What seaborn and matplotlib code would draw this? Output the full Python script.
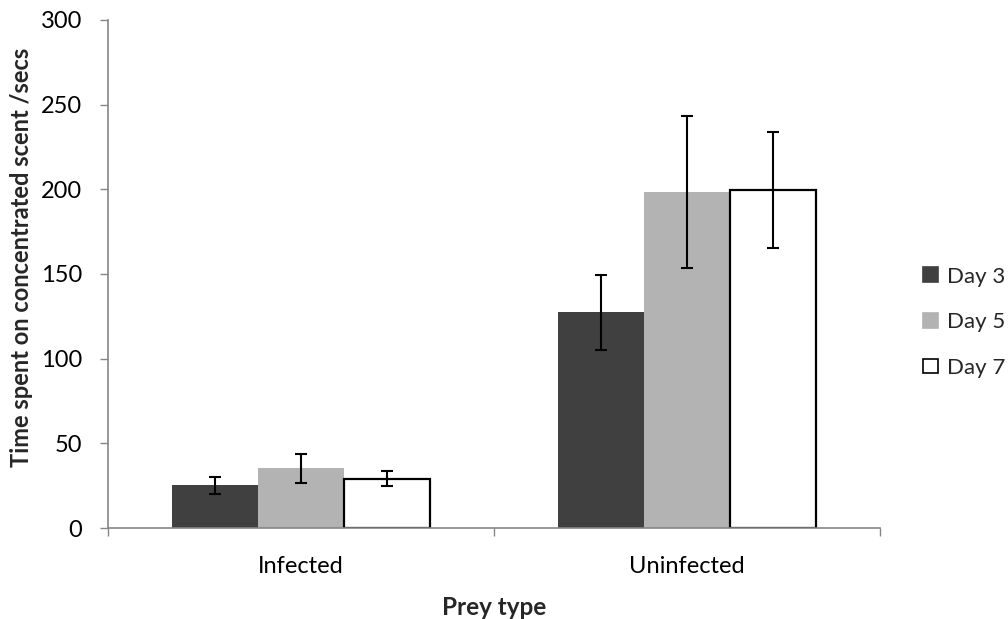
import numpy as np
import pandas as pd
import matplotlib
matplotlib.use('Agg')
import matplotlib.pyplot as plt
import seaborn as sns

# values
prey_types = ['Infected', 'Uninfected']
days = ['Day 3', 'Day 5', 'Day 7']
day3_means = [25.2, 127.3]
day5_means = [35.2, 198.3]
day7_means = [29.1, 199.5]
day3_err = [5.1, 22.0]
day5_err = [8.5, 45.0]
day7_err = [4.4, 34.0]

colors = ['#404040', '#b3b3b3', '#ffffff']

data = pd.DataFrame({
    'Prey type': prey_types * 3,
    'Day': [d for d in days for _ in prey_types],
    'Time': day3_means + day5_means + day7_means,
})
errors = [day3_err, day5_err, day7_err]

sns.set_style('white')
plt.rcParams['font.family'] = ['Lato', 'DejaVu Sans']

fig = plt.figure(figsize=(10.08, 6.19), dpi=100)
ax = fig.add_axes([0.107, 0.147, 0.766, 0.821])

sns.barplot(data=data, x='Prey type', y='Time', hue='Day', order=prey_types,
            hue_order=days, palette=colors, width=0.67, errorbar=None,
            saturation=1, ax=ax, legend=False)

# style bars and add error bars at bar centres
for cont, err, col in zip(ax.containers, errors, colors):
    for bar in cont:
        if col == '#ffffff':
            bar.set_edgecolor('black')
            bar.set_linewidth(1.6)
        else:
            bar.set_edgecolor(col)
            bar.set_linewidth(0)
    xs = [b.get_x() + b.get_width() / 2 for b in cont]
    ys = [b.get_height() for b in cont]
    ax.errorbar(xs, ys, yerr=err, fmt='none', ecolor='black', elinewidth=1.5,
                capsize=4.3, capthick=1.5, zorder=5)

ax.set_xlim(-0.5, 1.5)
ax.set_ylim(0, 300)
ax.set_yticks(np.arange(0, 301, 50))
ax.set_xticks([-0.5, 0.5, 1.5], minor=True)
ax.tick_params(axis='x', which='major', length=0, labelsize=17, pad=20, colors='black')
ax.tick_params(axis='x', which='minor', length=6, direction='out', color='#868686', width=1)
ax.tick_params(axis='y', length=6, direction='out', color='#868686', width=1,
               labelsize=17, pad=12.5, labelcolor='black')
ax.tick_params(bottom=True, left=True, which='both')

for side in ['top', 'right']:
    ax.spines[side].set_visible(False)
for side in ['left', 'bottom']:
    ax.spines[side].set_color('#868686')
    ax.spines[side].set_linewidth(1.2)

ax.set_xlabel('Prey type', fontsize=17.5, fontweight='bold', labelpad=14)
ax.set_ylabel('Time spent on concentrated scent /secs', fontsize=17,
              fontweight='bold')
ax.yaxis.set_label_coords(-0.097, 0.533)

handles = [plt.Rectangle((0, 0), 1, 1, facecolor=c,
                         edgecolor='black' if c == '#ffffff' else c, linewidth=1.2)
           for c in colors]
ax.legend(handles, days, loc='center left', bbox_to_anchor=(1.056, 0.405),
          frameon=False, fontsize=16, handlelength=0.65, handleheight=0.65,
          handletextpad=0.4, labelspacing=1.15, borderaxespad=0, borderpad=0)

fig.savefig('out.png', dpi=100)
